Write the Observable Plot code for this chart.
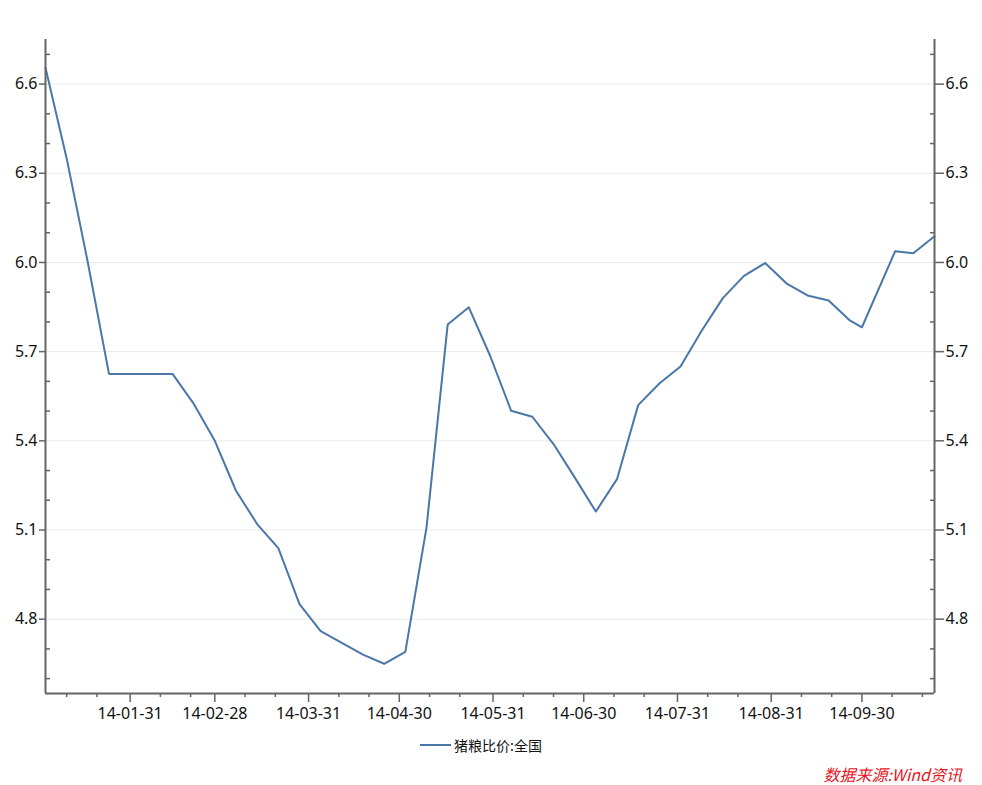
<!DOCTYPE html>
<html>
<head>
<meta charset="utf-8">
<script src="https://cdn.jsdelivr.net/npm/d3@7"></script>
<script src="https://cdn.jsdelivr.net/npm/@observablehq/plot@0.6"></script>
<style>
  html, body { margin: 0; padding: 0; background: #fff; }
  #wrap { position: relative; width: 982px; height: 785px; overflow: hidden; }
  #legend { position: absolute; left: 420px; top: 734px; height: 22px; display: flex; align-items: center;
    font-family: "Noto Sans CJK SC", sans-serif; font-size: 14px; color: #111; }
  #legend .sw { width: 31px; height: 2px; background: #4A77A8; margin-right: 3px; }
  #source { position: absolute; right: 20px; top: 765px; line-height: 19px; font-family: "Noto Sans CJK SC", sans-serif;
    font-size: 16px; font-style: italic; color: #E5161E; }
</style>
</head>
<body>
<div id="wrap">
  <div id="chart"></div>
  <div id="legend"><span class="sw"></span><span id="legendText"></span></div>
  <div id="source"></div>
</div>
<script>
const seriesName = "猪粮比价:全国";
const sourceText = "数据来源:Wind资讯";

const dates = [
  "2014-01-03","2014-01-10","2014-01-17","2014-01-24","2014-01-31",
  "2014-02-07","2014-02-14","2014-02-21","2014-02-28",
  "2014-03-07","2014-03-14","2014-03-21","2014-03-28",
  "2014-04-04","2014-04-11","2014-04-18","2014-04-25",
  "2014-05-02","2014-05-09","2014-05-16","2014-05-23","2014-05-30",
  "2014-06-06","2014-06-13","2014-06-20","2014-06-27",
  "2014-07-04","2014-07-11","2014-07-18","2014-07-25",
  "2014-08-01","2014-08-08","2014-08-15","2014-08-22","2014-08-29",
  "2014-09-05","2014-09-12","2014-09-19","2014-09-26","2014-09-30",
  "2014-10-11","2014-10-17","2014-10-24"
];
const values = [
  6.655, 6.35, 6.0, 5.625, 5.625,
  5.625, 5.625, 5.525, 5.40,
  5.232, 5.12, 5.039, 4.851,
  4.76, 4.72, 4.681, 4.65,
  4.69, 5.108, 5.791, 5.849, 5.687,
  5.501, 5.481, 5.389, 5.277,
  5.162, 5.271, 5.52, 5.593,
  5.65, 5.77, 5.88, 5.955, 5.998,
  5.93, 5.889, 5.872, 5.805, 5.782,
  6.038, 6.031, 6.088
];

const xMajorTicks = ["2014-01-31","2014-02-28","2014-03-31","2014-04-30","2014-05-31",
  "2014-06-30","2014-07-31","2014-08-31","2014-09-30"];
const xMinorTicks = ["2014-01-10","2014-01-20","2014-02-10","2014-02-20","2014-03-10","2014-03-20",
  "2014-04-10","2014-04-20","2014-05-10","2014-05-20","2014-06-10","2014-06-20",
  "2014-07-10","2014-07-20","2014-08-10","2014-08-20","2014-09-10","2014-09-20",
  "2014-10-10","2014-10-20"];
const yMajorTicks = [4.8, 5.1, 5.4, 5.7, 6.0, 6.3, 6.6];
const yMinorTicks = [4.6, 4.7, 4.9, 5.0, 5.2, 5.3, 5.5, 5.6, 5.8, 5.9, 6.1, 6.2, 6.4, 6.5, 6.7];
const yDomain = [4.55, 6.75];

const parse = s => new Date(s + "T00:00:00Z");
const data = dates.map((d, i) => ({date: parse(d), value: values[i]}));
const xDomain = [data[0].date, data[data.length - 1].date];

const W = 982, H = 730, mL = 45, mR = 48, mT = 39, mB = 37;
const plotW = W - mL - mR;
const axisColor = "#646464";
const fmt = d3.utcFormat("%y-%m-%d");

const chart = Plot.plot({
  width: W, height: H,
  marginLeft: mL, marginRight: mR, marginTop: mT, marginBottom: mB,
  style: {fontFamily: "'Noto Sans', sans-serif", fontSize: "16px", color: "#111", background: "#fff"},
  x: {type: "utc", domain: xDomain},
  y: {domain: yDomain},
  marks: [
    Plot.ruleY(yMajorTicks, {stroke: "#ebebeb", strokeWidth: 1}),
    Plot.line(data, {x: "date", y: "value", stroke: "#4A77A8", strokeWidth: 2}),
    Plot.ruleX([xDomain[0]], {stroke: axisColor, strokeWidth: 2}),
    Plot.ruleX([xDomain[1]], {stroke: axisColor, strokeWidth: 2}),
    Plot.ruleY([yDomain[0]], {stroke: axisColor, strokeWidth: 2}),
    Plot.axisY({anchor: "left", ticks: yMajorTicks, tickSize: 6, tickPadding: 2,
      tickFormat: d3.format(".1f"), stroke: axisColor, strokeWidth: 1.5, fill: "#111", label: null}),
    Plot.axisY({anchor: "right", ticks: yMajorTicks, tickSize: 9, tickPadding: 2,
      tickFormat: d3.format(".1f"), stroke: axisColor, strokeWidth: 1.5, fill: "#111", label: null}),
    Plot.tickY(yMinorTicks, {y: d => d, insetRight: plotW - 5, stroke: axisColor, strokeWidth: 1.5}),
    Plot.tickY(yMinorTicks, {y: d => d, insetLeft: plotW - 4, stroke: axisColor, strokeWidth: 1.5}),
    Plot.axisX({anchor: "bottom", ticks: xMinorTicks.map(parse), tickSize: 4,
      stroke: axisColor, strokeWidth: 1.5, fill: "none", label: null}),
    Plot.axisX({anchor: "bottom", ticks: xMajorTicks.map(parse), tickSize: 9, tickPadding: 5,
      tickFormat: fmt, stroke: axisColor, strokeWidth: 1.5, fill: "#111", label: null})
  ]
});
document.getElementById("chart").appendChild(chart);
document.getElementById("legendText").textContent = seriesName;
document.getElementById("source").textContent = sourceText;
</script>
</body>
</html>
